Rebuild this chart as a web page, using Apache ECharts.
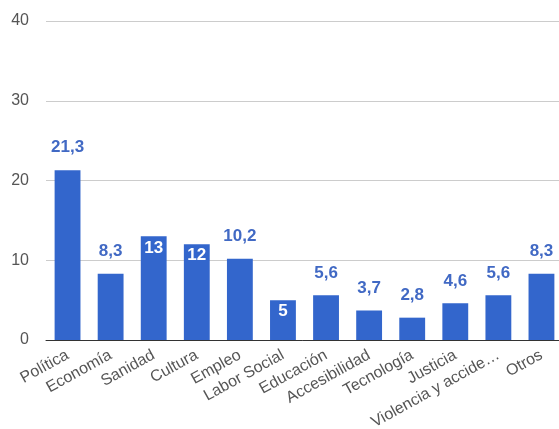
<!DOCTYPE html>
<html>
<head>
<meta charset="utf-8">
<script src="https://cdn.jsdelivr.net/npm/echarts@6/dist/echarts.min.js"></script>
<style>html,body{margin:0;padding:0;background:#fff}#c{width:559px;height:429px}</style>
</head>
<body>
<div id="c"></div>
<script>
const categories = ["Política","Economía","Sanidad","Cultura","Empleo","Labor Social","Educación","Accesibilidad","Tecnología","Justicia","Violencia y accide…","Otros"];
const values = [21.3, 8.3, 13, 12, 10.2, 5, 5.6, 3.7, 2.8, 4.6, 5.6, 8.3];
const insideLabels = ["Sanidad","Cultura","Labor Social"];
const yTicks = [0, 10, 20, 30, 40];

const fmt = v => String(v).replace('.', ',');
const data = values.map((v, i) => {
  const inside = insideLabels.includes(categories[i]);
  return {
    value: v,
    label: inside
      ? {position: 'insideTop', distance: 3, color: '#ffffff'}
      : {position: 'top', distance: 14, color: '#4169c4'}
  };
});

const chart = echarts.init(document.getElementById('c'), null, {renderer: 'canvas'});
chart.setOption({
  animation: false,
  textStyle: {fontFamily: 'Liberation Sans, Arial, sans-serif'},
  grid: {left: 46, right: -4, top: 21, bottom: 89, containLabel: false, outerBoundsMode: 'none'},
  xAxis: {
    type: 'category',
    data: categories,
    axisLine: {lineStyle: {color: '#333333', width: 1}},
    axisTick: {show: false},
    axisLabel: {rotate: 29, interval: 0, margin: 14, fontSize: 16, color: '#555555', fontFamily: 'Liberation Sans, Arial, sans-serif'}
  },
  yAxis: {
    type: 'value',
    min: yTicks[0],
    max: yTicks[yTicks.length - 1],
    interval: 10,
    axisLine: {show: false},
    axisTick: {show: false},
    splitLine: {lineStyle: {color: '#cccccc', width: 1}},
    axisLabel: {margin: 17, fontSize: 16, color: '#555555', fontFamily: 'Liberation Sans, Arial, sans-serif'}
  },
  series: [{
    type: 'bar',
    data: data,
    barCategoryGap: '40%',
    itemStyle: {color: '#3366cc'},
    label: {show: true, fontSize: 17, fontWeight: 'bold', fontFamily: 'Liberation Sans, Arial, sans-serif', formatter: p => fmt(p.value)}
  }]
});
</script>
</body>
</html>
